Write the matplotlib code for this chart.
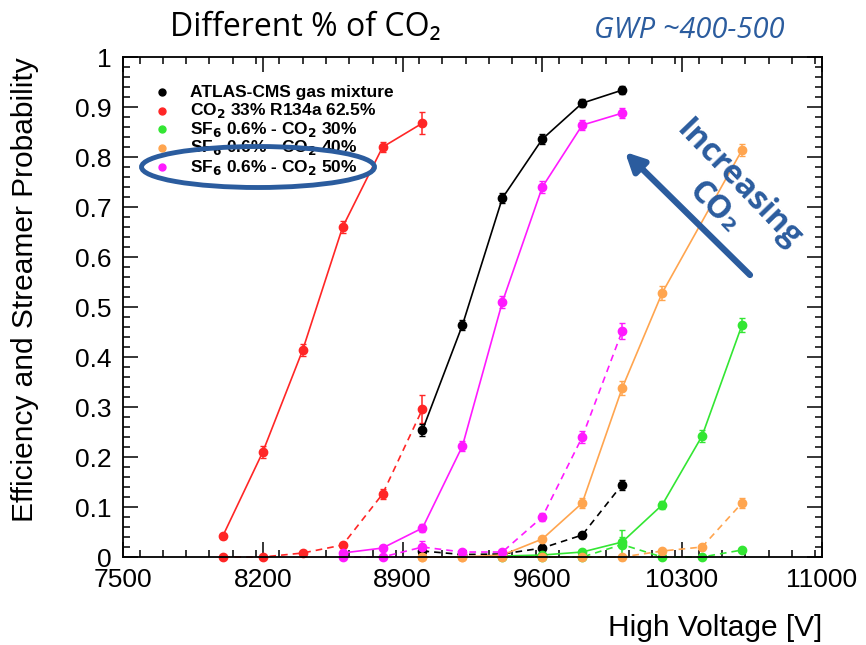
import matplotlib
matplotlib.use("Agg")
import matplotlib.pyplot as plt
from matplotlib.patches import Ellipse
from matplotlib.ticker import MultipleLocator, FuncFormatter

plt.rcParams['font.family'] = ['Liberation Sans', 'DejaVu Sans']

# ATLAS-CMS gas mixture
v_atl = [9000, 9200, 9400, 9600, 9800, 10000]
eff_atl = [0.254, 0.464, 0.718, 0.836, 0.908, 0.934]
err_atl = [0.012, 0.010, 0.010, 0.010, 0.008, 0.008]
str_atl = [0.012, 0.005, 0.006, 0.018, 0.044, 0.145]
serr_atl = [0.012, 0.003, 0.003, 0.004, 0.005, 0.010]

# CO2 33% R134a 62.5%
v_red = [8000, 8200, 8400, 8600, 8800, 9000]
eff_red = [0.042, 0.210, 0.414, 0.660, 0.820, 0.868]
err_red = [0.005, 0.012, 0.012, 0.012, 0.010, 0.022]
str_red = [0.0, 0.0, 0.008, 0.024, 0.126, 0.296]
serr_red = [0.0, 0.0, 0.003, 0.005, 0.010, 0.028]

# SF6 0.6% - CO2 30%
v_grn = [9400, 9600, 9800, 10000, 10200, 10400, 10600]
eff_grn = [0.002, 0.004, 0.010, 0.030, 0.104, 0.242, 0.464]
err_grn = [0.002, 0.002, 0.003, 0.010, 0.008, 0.012, 0.014]
str_grn = [0.0, 0.0, 0.0, 0.025, 0.0, 0.0, 0.014]
serr_grn = [0.0, 0.0, 0.0, 0.030, 0.0, 0.0, 0.003]

# SF6 0.6% - CO2 40%
v_org = [9000, 9200, 9400, 9600, 9800, 10000, 10200, 10600]
eff_org = [0.0, 0.0, 0.004, 0.036, 0.108, 0.338, 0.528, 0.814]
err_org = [0.0, 0.0, 0.002, 0.005, 0.010, 0.014, 0.014, 0.012]
vs_org = [9000, 9200, 9400, 9600, 9800, 10000, 10200, 10400, 10600]
str_org = [0.0, 0.0, 0.0, 0.0, 0.0, 0.0, 0.012, 0.020, 0.108]
serr_org = [0.0, 0.0, 0.0, 0.0, 0.0, 0.0, 0.003, 0.005, 0.010]

# SF6 0.6% - CO2 50%
v_mag = [8600, 8800, 9000, 9200, 9400, 9600, 9800, 10000]
eff_mag = [0.008, 0.018, 0.058, 0.222, 0.510, 0.740, 0.864, 0.888]
err_mag = [0.004, 0.005, 0.008, 0.010, 0.012, 0.012, 0.010, 0.010]
str_mag = [0.0, 0.0, 0.020, 0.010, 0.010, 0.080, 0.240, 0.452]
serr_mag = [0.0, 0.0, 0.012, 0.004, 0.004, 0.008, 0.012, 0.016]

x_ticks = [7500, 8200, 8900, 9600, 10300, 11000]
y_ticks = [0, 0.1, 0.2, 0.3, 0.4, 0.5, 0.6, 0.7, 0.8, 0.9, 1.0]

legend_labels = [
    "ATLAS-CMS gas mixture",
    r"CO$_\mathbf{2}$ 33% R134a 62.5%",
    r"SF$_\mathbf{6}$ 0.6% - CO$_\mathbf{2}$ 30%",
    r"SF$_\mathbf{6}$ 0.6% - CO$_\mathbf{2}$ 40%",
    r"SF$_\mathbf{6}$ 0.6% - CO$_\mathbf{2}$ 50%",
]

c_blk = "black"
c_red = "#ff2626"
c_grn = "#33e633"
c_org = "#ffa54f"
c_mag = "#ff1aff"
blue = "#2b5c9e"

fig = plt.figure(figsize=(8.66, 6.45), dpi=100)
ax = fig.add_axes([0.142, 0.1364, 0.807, 0.775])

series = [
    (v_red, eff_red, err_red, v_red, str_red, serr_red, c_red),
    (v_atl, eff_atl, err_atl, v_atl, str_atl, serr_atl, c_blk),
    (v_grn, eff_grn, err_grn, v_grn, str_grn, serr_grn, c_grn),
    (v_org, eff_org, err_org, vs_org, str_org, serr_org, c_org),
    (v_mag, eff_mag, err_mag, v_mag, str_mag, serr_mag, c_mag),
]
for v, e, ee, vs, s, se, col in series:
    ax.errorbar(v, e, yerr=ee, color=col, marker='o', ms=6, lw=1.2,
                elinewidth=1.1, capsize=2.5, clip_on=False)
    ax.errorbar(vs, s, yerr=se, color=col, marker='o', ms=6, lw=1.2,
                ls=(0, (4, 3)), elinewidth=1.1, capsize=2.5, clip_on=False)

ax.set_xlim(7500, 11000)
ax.set_ylim(0, 1)
ax.set_xticks(x_ticks)
ax.set_yticks(y_ticks)
ax.xaxis.set_minor_locator(MultipleLocator(700 / 6))
ax.yaxis.set_minor_locator(MultipleLocator(0.02))
ax.yaxis.set_major_formatter(FuncFormatter(lambda y, p: "%g" % y))
ax.tick_params(which='both', direction='in', top=True, right=True,
               labelsize=19, width=1.1)
ax.tick_params(which='major', length=11, pad=8)
ax.tick_params(which='minor', length=5)
for sp in ax.spines.values():
    sp.set_linewidth(1.3)

# legend
leg_colors = [c_blk, c_red, c_grn, c_org, c_mag]
leg_y = [0.930, 0.893, 0.856, 0.819, 0.780]
for lab, col, yy in zip(legend_labels, leg_colors, leg_y):
    ax.plot([0.056], [yy], 'o', ms=5, color=col, transform=ax.transAxes)
    ax.text(0.096, yy, lab, transform=ax.transAxes, fontsize=12.5,
            fontweight='bold', va='center', ha='left')

# axis titles
fig.text(0.029, 0.9116, "Efficiency and Streamer Probability", rotation=90,
         ha='center', va='top', fontsize=21.5)
fig.text(0.949, 0.026, "High Voltage [V]", ha='right', va='center',
         fontsize=21.5)

# annotations
fig.text(0.196, 0.957, "Different % of CO\u2082", ha='left', va='center',
         fontsize=23, family=['Open Sans', 'DejaVu Sans'])
fig.text(689 / 866, 1 - 31 / 645, "GWP ~400-500", ha='center', va='center',
         fontsize=21, style='italic', color=blue,
         family=['Open Sans', 'DejaVu Sans'])
fig.text(726 / 866, 1 - 196 / 645, "Increasing\nCO\u2082", rotation=-46,
         ha='center', va='center', multialignment='center', fontsize=23,
         fontweight='bold', color=blue, linespacing=1.05,
         family=['Open Sans', 'DejaVu Sans'])
ax.annotate('', xy=(625 / 866, 1 - 152 / 645), xycoords='figure fraction',
            xytext=(750 / 866, 1 - 275 / 645), textcoords='figure fraction',
            arrowprops=dict(arrowstyle='-|>', lw=4.5, color=blue,
                            mutation_scale=28, shrinkA=0, shrinkB=0))
ell = Ellipse((258 / 866, 1 - 167 / 645), 233 / 866, 41 / 645,
              transform=fig.transFigure, fill=False, edgecolor=blue, lw=3.5)
fig.patches.append(ell)

fig.savefig("out.png", dpi=100)
